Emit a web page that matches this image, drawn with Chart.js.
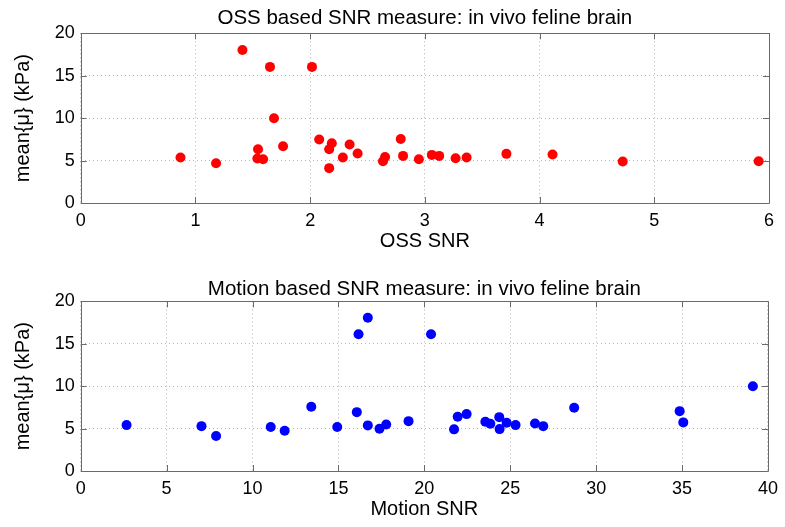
<!DOCTYPE html>
<html>
<head>
<meta charset="utf-8">
<script src="https://cdn.jsdelivr.net/npm/chart.js@4.4.0/dist/chart.umd.min.js"></script>
<style>
  body { margin: 0; background: #fff; }
  .panel { position: absolute; left: 0; width: 785px; height: 259px; }
</style>
</head>
<body>
<div class="panel" style="top:0px"><canvas id="ossChart"></canvas></div>
<div class="panel" style="top:268px"><canvas id="motionChart"></canvas></div>
<script>
// Datos
const ossSnr = [0.87, 1.18, 1.41, 1.65, 1.685, 1.764, 1.546, 1.54, 1.59, 2.016,
    2.079, 2.166, 2.189, 2.166, 2.285, 2.344, 2.414, 2.635, 2.653, 2.79,
    2.81, 2.948, 3.061, 3.125, 3.268, 3.364, 3.711, 4.113, 4.725, 5.91];
const ossMean = [5.36, 4.69, 18.04, 16.04, 9.98, 6.69, 6.34, 5.24, 5.16, 16.04,
    7.48, 6.34, 7.04, 4.11, 5.36, 6.89, 5.83, 4.93, 5.43, 7.55,
    5.55, 5.16, 5.67, 5.55, 5.28, 5.36, 5.79, 5.71, 4.89, 4.93];

const motionSnr = [2.67, 7.03, 7.88, 11.06, 11.87, 13.42, 14.93, 16.17, 16.71, 16.07,
    16.71, 17.39, 17.78, 19.08, 20.39, 21.73, 21.94, 22.46, 23.55, 23.84,
    24.36, 24.38, 24.79, 25.31, 26.44, 26.92, 28.72, 34.86, 35.07, 39.12];
const motionMean = [5.41, 5.29, 4.12, 5.18, 4.75, 7.58, 5.18, 16.12, 18.08, 6.94,
    5.38, 4.99, 5.49, 5.88, 16.12, 4.91, 6.4, 6.71, 5.81, 5.58,
    6.35, 4.94, 5.69, 5.41, 5.61, 5.29, 7.46, 7.06, 5.73, 10.0];

const yTicks = [0, 5, 10, 15, 20];
const ossTicks = [0, 1, 2, 3, 4, 5, 6];
const motionTicks = [0, 5, 10, 15, 20, 25, 30, 35, 40];

const FONT = "'Liberation Sans', Arial, sans-serif";
const FRAME = '#6a6a6a';

// Marco y marcas internas estilo MATLAB
const boxPlugin = {
    id: 'box',
    afterDraw(chart) {
        const { ctx, chartArea: a, scales } = chart;
        ctx.save();
        ctx.strokeStyle = FRAME;
        ctx.lineWidth = 1;
        ctx.beginPath();
        ctx.rect(Math.round(a.left) + 0.5, Math.round(a.top) + 0.5,
            Math.round(a.right - a.left), Math.round(a.bottom - a.top));
        ctx.stroke();
        const len = 6;
        ctx.beginPath();
        scales.x.ticks.forEach(t => {
            const x = Math.round(scales.x.getPixelForValue(t.value)) + 0.5;
            ctx.moveTo(x, a.bottom); ctx.lineTo(x, a.bottom - len);
            ctx.moveTo(x, a.top); ctx.lineTo(x, a.top + len);
        });
        scales.y.ticks.forEach(t => {
            const y = Math.round(scales.y.getPixelForValue(t.value)) + 0.5;
            ctx.moveTo(a.left, y); ctx.lineTo(a.left + len, y);
            ctx.moveTo(a.right, y); ctx.lineTo(a.right - len, y);
        });
        ctx.stroke();
        ctx.restore();
    }
};

function makeChart(id, xs, ys, color, title, xTitle, xTickVals, titlePad) {
    const ctx = document.getElementById(id).getContext('2d');
    return new Chart(ctx, {
        type: 'scatter',
        data: {
            datasets: [{
                data: xs.map((x, i) => ({ x: x, y: ys[i] })),
                backgroundColor: color,
                borderWidth: 0,
                pointRadius: 5,
                pointHoverRadius: 5
            }]
        },
        options: {
            responsive: true,
            maintainAspectRatio: false,
            animation: false,
            layout: { padding: { left: 0, right: 16, top: 0, bottom: 0 } },
            plugins: {
                legend: { display: false },
                tooltip: { enabled: false },
                title: {
                    display: true,
                    fullSize: false,
                    text: title,
                    color: '#000',
                    font: { family: FONT, size: 20.5, weight: 'normal', lineHeight: 1.2 },
                    padding: titlePad
                }
            },
            scales: {
                x: {
                    type: 'linear',
                    min: xTickVals[0],
                    max: xTickVals[xTickVals.length - 1],
                    afterBuildTicks: s => { s.ticks = xTickVals.map(v => ({ value: v })); },
                    afterFit: s => { s.height = 56; },
                    grid: { color: '#b4b4b4', drawTicks: false, lineWidth: 1 },
                    border: { display: false, dash: [1, 3] },
                    ticks: { color: '#000', padding: 7, maxRotation: 0,
                        font: { family: FONT, size: 18, lineHeight: 1.2 } },
                    title: { display: true, text: xTitle, color: '#000',
                        padding: { top: 5.5, bottom: 5.5 },
                        font: { family: FONT, size: 20, lineHeight: 1.2 } }
                },
                y: {
                    type: 'linear',
                    min: 0,
                    max: 20,
                    afterBuildTicks: s => { s.ticks = yTicks.map(v => ({ value: v })); },
                    afterFit: s => { s.width = 80.7; },
                    grid: { color: '#b4b4b4', drawTicks: false, lineWidth: 1 },
                    border: { display: false, dash: [1, 3] },
                    ticks: { color: '#000', padding: 6,
                        font: { family: FONT, size: 18, lineHeight: 1.2 } },
                    title: { display: true, text: 'mean{\u03bc} (kPa)', color: '#000',
                        padding: { top: 11, bottom: 11 },
                        font: { family: FONT, size: 20, lineHeight: 1.2 } }
                }
            }
        },
        plugins: [boxPlugin]
    });
}

makeChart('ossChart', ossSnr, ossMean, '#ff0000',
    'OSS based SNR measure: in vivo feline brain', 'OSS SNR', ossTicks,
    { top: 6, bottom: 2.7 });
makeChart('motionChart', motionSnr, motionMean, '#0000ff',
    'Motion based SNR measure: in vivo feline brain', 'Motion SNR', motionTicks,
    { top: 8.8, bottom: 0 });
</script>
</body>
</html>
